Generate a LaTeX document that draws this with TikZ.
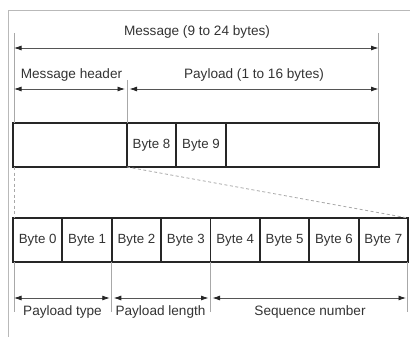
\documentclass[tikz,border=0pt]{standalone}
\usepackage{fontspec}
\setmainfont{Liberation Sans}
\usetikzlibrary{arrows.meta}
\definecolor{txt}{HTML}{333333}
\definecolor{boxc}{HTML}{262626}
\definecolor{ext}{HTML}{A8A8A8}
\definecolor{arr}{HTML}{555555}
\begin{document}
\begin{tikzpicture}[x=1pt,y=-1pt,
  cell/.style={draw=boxc,line width=1.9pt,minimum height=44pt,inner sep=0pt,outer sep=0pt,
     text=txt,font=\fontsize{13.3}{15}\selectfont},
  lbl/.style={text=txt,font=\fontsize{13.6}{16}\selectfont,inner sep=1pt},
  extl/.style={draw=ext,line width=0.9pt},
  tip/.style={Latex[length=7.5pt,width=5pt,fill=black!85,color=black!85]},
  dim/.style={draw=arr,line width=0.8pt,{Latex[length=7.5pt,width=5pt,color=black!85]}-{Latex[length=7.5pt,width=5pt,color=black!85]}},
  dsh/.style={draw=ext,line width=0.8pt,dash pattern=on 3pt off 2.5pt}]
\useasboundingbox (0,0) rectangle (410,337);
% frame
\draw[draw=ext!80,line width=1pt] (410,10.5) -- (8,10.5) -- (8,337);
% top box
\node[cell,minimum width=114pt,anchor=north west] (t0) at (13,123) {};
\node[cell,minimum width=49pt,anchor=north west] (b8) at (t0.north east) {Byte 8};
\node[cell,minimum width=50pt,anchor=north west] (b9) at (b8.north east) {Byte 9};
\node[cell,minimum width=153pt,anchor=north west] (t3) at (b9.north east) {};
% bottom box
\foreach \i in {0,...,7}{
  \node[cell,minimum width=49.375pt,anchor=north west] (c\i) at (13+\i*49.375,218) {Byte \i};
}
% extension lines top
\coordinate (eL) at (14,33);
\coordinate (eR) at (378.5,33);
\coordinate (eM) at (127,80);
\draw[extl] (eL) -- (eL |- t0.north);
\draw[extl] (eR) -- (eR |- t3.north);
\draw[extl] (eM) -- (t0.north east);
% dimension arrows top
\draw[dim] (14,48) coordinate (mA) -- (378.5,48) coordinate (mB);
\draw[dim] (14,89) coordinate (hA) -- (125,89) coordinate (hB);
\draw[dim] (129.5,89) coordinate (pA) -- (378.5,89) coordinate (pB);
\node[lbl] (msg) at (197,32) {Message (9 to 24 bytes)};
\node[lbl] (mh) at (71.5,74.5) {Message header};
\node[lbl] (pl) at (254,74.5) {Payload (1 to 16 bytes)};
% dashed zoom lines
\draw[dsh] ([xshift=1pt]t0.south west) -- ([xshift=1pt]c0.north west);
\draw[dsh] (t0.south east) -- (c7.north east);
% bottom extension lines
\coordinate (f0) at (14,312);
\coordinate (f1) at (c1.south east |- f0);
\coordinate (f2) at (c3.south east |- f0);
\coordinate (f3) at (407,312);
\draw[extl] ([xshift=1pt]c0.south west) -- (f0);
\draw[extl] (c1.south east) -- (f1);
\draw[extl] (c3.south east) -- (f2);
\draw[extl] ([xshift=-1pt]c7.south east) -- (f3);
% bottom arrows
\draw[dim] (14,298) -- ([xshift=-2pt]c1.south east |- 0,298);
\draw[dim] ([xshift=2pt]c1.south east |- 0,298) -- ([xshift=-2pt]c3.south east |- 0,298);
\draw[dim] ([xshift=2pt]c3.south east |- 0,298) -- (406,298);
\node[lbl] (pt) at (62.5,312) {Payload type};
\node[lbl] (plen) at (160.5,312) {Payload length};
\node[lbl] (sn) at (310,312) {Sequence number};
\end{tikzpicture}
\end{document}
